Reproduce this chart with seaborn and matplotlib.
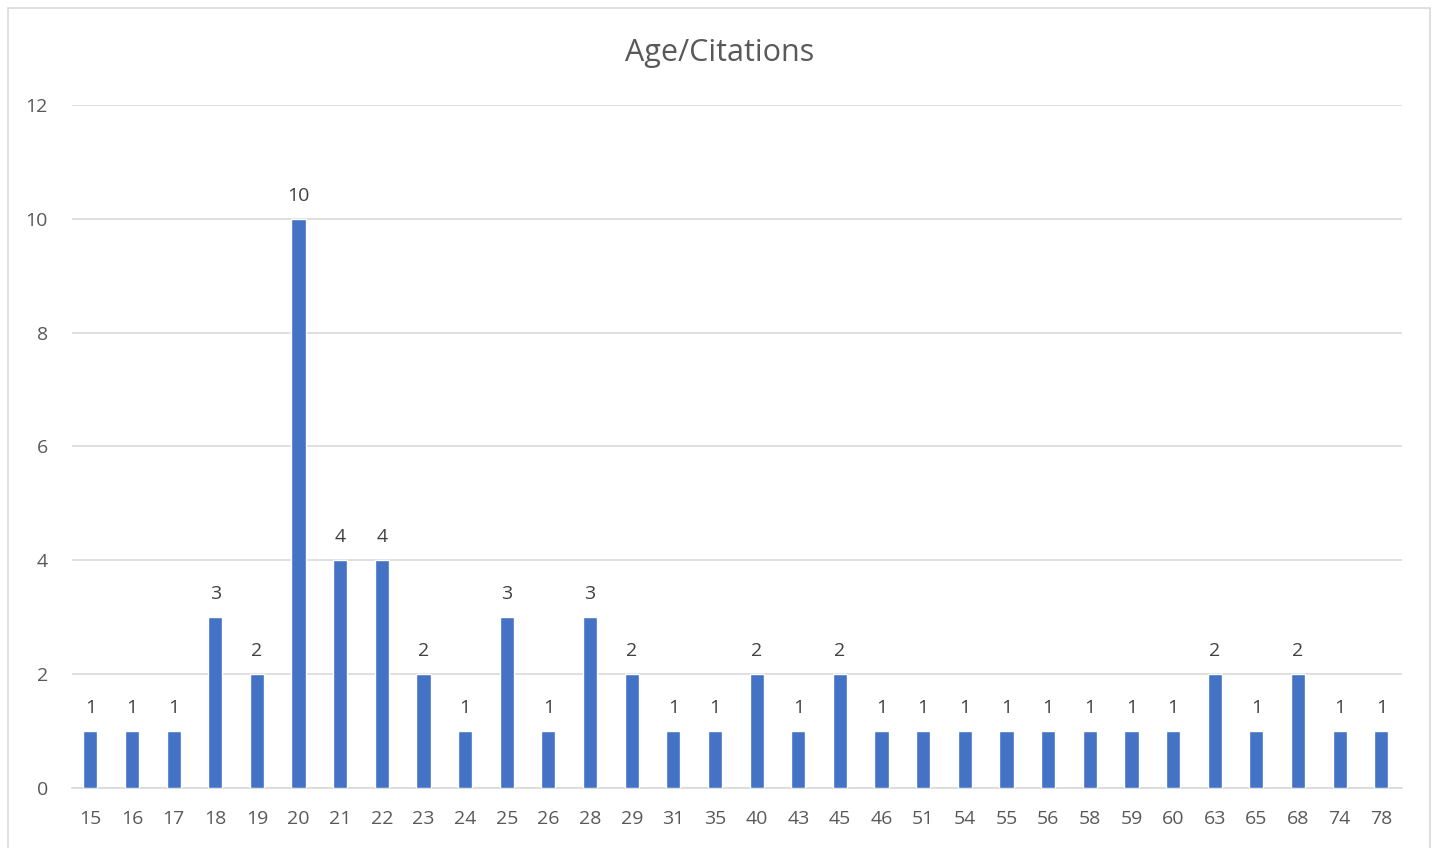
import pandas as pd
import matplotlib.pyplot as plt
import seaborn as sns
from matplotlib.patches import Rectangle

# Chart data
ages = ["15", "16", "17", "18", "19", "20", "21", "22", "23", "24", "25", "26",
        "28", "29", "31", "35", "40", "43", "45", "46", "51", "54", "55", "56",
        "58", "59", "60", "63", "65", "68", "74", "78"]
counts = [1, 1, 1, 3, 2, 10, 4, 4, 2, 1, 3, 1,
          3, 2, 1, 1, 2, 1, 2, 1, 1, 1, 1, 1,
          1, 1, 1, 2, 1, 2, 1, 1]
y_ticks = [0, 2, 4, 6, 8, 10, 12]

df = pd.DataFrame({"Age": ages, "Count": counts})

sns.set_style("white")
plt.rcParams["font.family"] = ["Open Sans", "DejaVu Sans"]

text_color = "#595959"
bar_color = "#4472C4"

fig = plt.figure(figsize=(14.4, 8.48), dpi=100)
ax = fig.add_axes([0.0497, 0.0708, 0.9240, 0.8054])

sns.barplot(data=df, x="Age", y="Count", order=ages, color=bar_color,
            width=0.34, saturation=1, ax=ax, zorder=3)

ax.bar_label(ax.containers[0], padding=10, fontsize=14, color="#404040")

ax.set_ylim(0, 12)
ax.set_yticks(y_ticks)
ax.set_xlim(-0.45, len(ages) - 0.5)
ax.yaxis.grid(True, color="#D9D9D9", linewidth=1.2, zorder=0)
ax.set_axisbelow(True)

for side in ["left", "right", "top"]:
    ax.spines[side].set_visible(False)
ax.spines["bottom"].set_color("#D9D9D9")
ax.spines["bottom"].set_linewidth(1.2)

ax.tick_params(axis="both", length=0, labelsize=14, colors=text_color)
ax.tick_params(axis="x", pad=16)
ax.tick_params(axis="y", pad=17)
ax.set_xlabel("")
ax.set_ylabel("")

fig.text(0.5, 0.938, "Age/Citations", ha="center", va="center",
         fontsize=22, color=text_color)

# light border round the chart
fig.patches.append(Rectangle((0.0056, -0.01), 0.9875, 1.0, transform=fig.transFigure,
                             fill=False, edgecolor="#D9D9D9", linewidth=1.2))

fig.savefig("out.png", dpi=100, facecolor="white")
